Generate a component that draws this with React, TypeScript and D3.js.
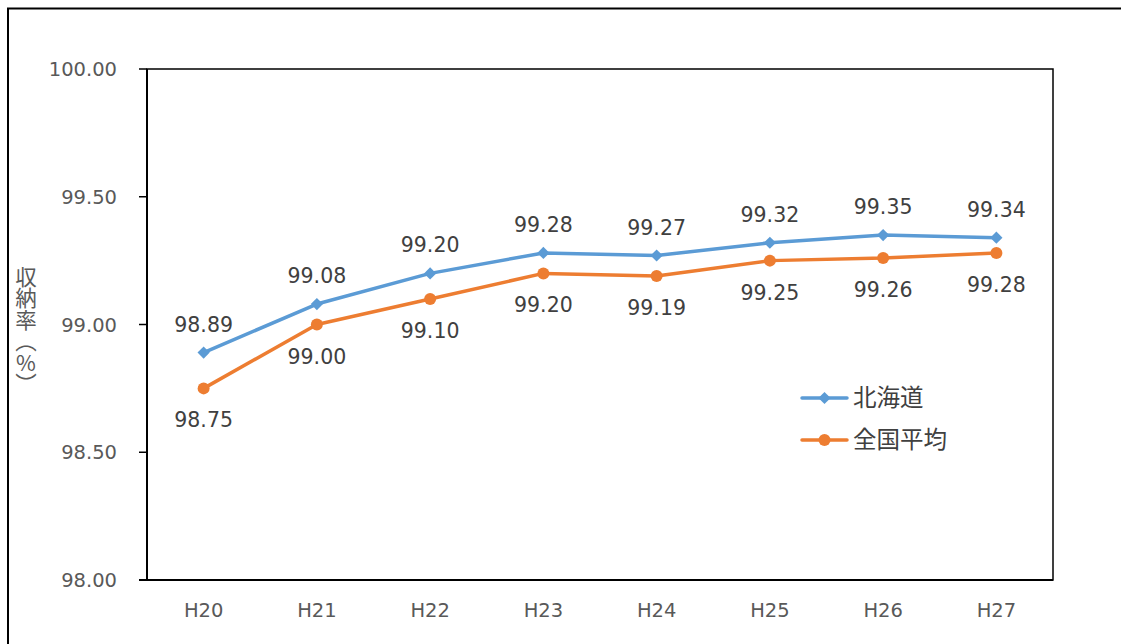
import React from "react";
import * as d3 from "d3";

const categories = ["H20", "H21", "H22", "H23", "H24", "H25", "H26", "H27"];
const hokkaido = [98.89, 99.08, 99.2, 99.28, 99.27, 99.32, 99.35, 99.34];
const national = [98.75, 99.0, 99.1, 99.2, 99.19, 99.25, 99.26, 99.28];
const yTicks = [98.0, 98.5, 99.0, 99.5, 100.0];
const seriesNames = ["北海道", "全国平均"];
const axisTitle = "収納率（%）";

const BLUE = "#5B9BD5";
const ORANGE = "#ED7D31";
const LATIN = "'DejaVu Sans', Verdana, sans-serif";
const CJK = "'Noto Sans CJK JP', sans-serif";

export default function App() {
  const W = 1121;
  const H = 644;
  const plot = { left: 147, top: 69, right: 1053, bottom: 580 };

  const x = d3
    .scaleBand<string>()
    .domain(categories)
    .range([plot.left, plot.right]);
  const y = d3.scaleLinear().domain([98, 100]).range([plot.bottom, plot.top]);
  const cx = (c: string) => (x(c) as number) + x.bandwidth() / 2;

  const line = d3
    .line<number>()
    .x((_, i) => cx(categories[i]))
    .y((v) => y(v));

  const diamond = d3.symbol().type(d3.symbolDiamond2).size(95)() as string;

  return (
    <svg
      width={W}
      height={H}
      style={{ position: "absolute", left: 0, top: 0, display: "block" }}
    >
      <rect x={0} y={0} width={W} height={H} fill="#fff" />
      {/* outer chart frame */}
      <rect
        x={8}
        y={8.5}
        width={W + 20}
        height={H + 20}
        fill="none"
        stroke="#000"
        strokeWidth={2}
      />

      {/* plot area */}
      <rect
        x={plot.left}
        y={plot.top}
        width={plot.right - plot.left}
        height={plot.bottom - plot.top}
        fill="none"
        stroke="#000"
        strokeWidth={1.5}
      />
      <line
        x1={plot.left}
        x2={plot.left}
        y1={plot.top}
        y2={plot.bottom}
        stroke="#000"
        strokeWidth={2}
      />
      <line
        x1={plot.left - 8}
        x2={plot.right}
        y1={plot.bottom}
        y2={plot.bottom}
        stroke="#000"
        strokeWidth={2}
      />

      {/* y axis ticks and labels */}
      {yTicks.map((t) => (
        <g key={t}>
          <line
            x1={plot.left - 8}
            x2={plot.left}
            y1={y(t)}
            y2={y(t)}
            stroke="#000"
            strokeWidth={1.5}
          />
          <text
            x={117}
            y={y(t)}
            dy="0.36em"
            textAnchor="end"
            fontFamily={LATIN}
            fontSize={19.5}
            fill="#595959"
          >
            {t.toFixed(2)}
          </text>
        </g>
      ))}

      {/* x axis labels */}
      {categories.map((c) => (
        <text
          key={c}
          x={cx(c)}
          y={617}
          textAnchor="middle"
          fontFamily={LATIN}
          fontSize={19.5}
          fill="#595959"
        >
          {c}
        </text>
      ))}

      {/* y axis title, set vertically */}
      <text
        x={26}
        y={266}
        fontFamily={CJK}
        fontSize={21.5}
        fill="#595959"
        style={{ writingMode: "vertical-rl", textOrientation: "upright" } as any}
      >
        {axisTitle}
      </text>

      {/* series lines */}
      <path
        d={line(national) as string}
        fill="none"
        stroke={ORANGE}
        strokeWidth={3.5}
        strokeLinejoin="round"
        strokeLinecap="round"
      />
      <path
        d={line(hokkaido) as string}
        fill="none"
        stroke={BLUE}
        strokeWidth={3.5}
        strokeLinejoin="round"
        strokeLinecap="round"
      />

      {/* markers */}
      {national.map((v, i) => (
        <circle
          key={"n" + i}
          cx={cx(categories[i])}
          cy={y(v)}
          r={6}
          fill={ORANGE}
        />
      ))}
      {hokkaido.map((v, i) => (
        <path
          key={"h" + i}
          d={diamond}
          transform={`translate(${cx(categories[i])},${y(v)})`}
          fill={BLUE}
        />
      ))}

      {/* data labels */}
      {hokkaido.map((v, i) => (
        <text
          key={"hl" + i}
          x={cx(categories[i])}
          y={y(v) - 21}
          textAnchor="middle"
          fontFamily={LATIN}
          fontSize={20.5}
          fill="#404040"
        >
          {v.toFixed(2)}
        </text>
      ))}
      {national.map((v, i) => (
        <text
          key={"nl" + i}
          x={cx(categories[i])}
          y={y(v) + 39}
          textAnchor="middle"
          fontFamily={LATIN}
          fontSize={20.5}
          fill="#404040"
        >
          {v.toFixed(2)}
        </text>
      ))}

      {/* legend */}
      {seriesNames.map((name, i) => {
        const ly = 398 + i * 42;
        const color = i === 0 ? BLUE : ORANGE;
        return (
          <g key={name}>
            <line
              x1={802}
              x2={847}
              y1={ly}
              y2={ly}
              stroke={color}
              strokeWidth={3.5}
              strokeLinecap="round"
            />
            {i === 0 ? (
              <path
                d={diamond}
                transform={`translate(824.5,${ly})`}
                fill={color}
              />
            ) : (
              <circle cx={824.5} cy={ly} r={6} fill={color} />
            )}
            <text
              x={853}
              y={ly}
              dy="0.36em"
              fontFamily={CJK}
              fontSize={23.5}
              fill="#404040"
            >
              {name}
            </text>
          </g>
        );
      })}
    </svg>
  );
}
